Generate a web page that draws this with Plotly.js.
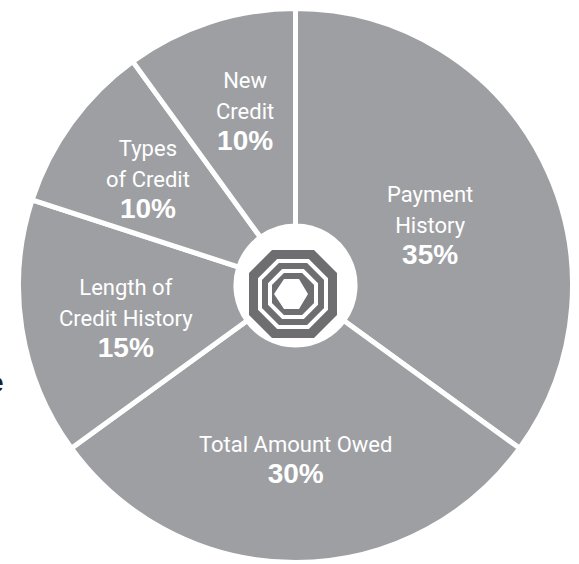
<!DOCTYPE html>
<html>
<head>
<meta charset="utf-8">
<script src="https://cdn.plot.ly/plotly-3.0.1.min.js"></script>
<style>html,body{margin:0;padding:0;background:#fff;}#chart{width:579px;height:564px;}</style>
</head>
<body>
<div id="chart"></div>
<script>
// ---- data ----
var categories = ["Payment<br>History", "Total Amount Owed", "Length of<br>Credit History", "Types<br>of Credit", "New<br>Credit"];
var shares = [35, 30, 15, 10, 10];

// ---- layout helpers (pixel positions of label blocks, not data) ----
var W = 579, H = 564;
var labelCenters = [[430, 226], [295, 460], [126, 319], [148, 180], [245, 112]];
var sliceColor = "#9e9fa3";
var logoColor = "#6e6e70";

function px(x) { return x / W; }
function py(y) { return 1 - y / H; }

var annotations = categories.map(function (c, i) {
  var total = shares.reduce(function (a, b) { return a + b; }, 0);
  var pct = Math.round(shares[i] / total * 100) + "%";
  return {
    xref: "paper", yref: "paper",
    x: px(labelCenters[i][0]), y: py(labelCenters[i][1]),
    xanchor: "center", yanchor: "middle",
    showarrow: false,
    text: '<span style="font-size:22px">' + c + '</span><br>' +
          '<span style="font-size:28px;font-family:Liberation Sans, Arial, sans-serif"><b>' + pct + '</b></span>',
    font: {family: "Roboto, Liberation Sans, sans-serif", size: 24, color: "#ffffff"}
  };
});

// clipped letter at far left
annotations.push({
  xref: "paper", yref: "paper", x: px(6), y: py(382),
  xanchor: "right", yanchor: "middle", showarrow: false,
  text: "<b>e</b>",
  font: {family: "Liberation Sans, Arial, sans-serif", size: 28, color: "#231f20"}
});

// ---- logo (nested octagons) ----
function octPath(cx, cy, h, c) {
  var pts = [[cx - h + c, cy - h], [cx + h - c, cy - h], [cx + h, cy - h + c], [cx + h, cy + h - c],
             [cx + h - c, cy + h], [cx - h + c, cy + h], [cx - h, cy + h - c], [cx - h, cy - h + c]];
  return "M" + pts.map(function (p) { return px(p[0]) + "," + py(p[1]); }).join("L") + "Z";
}
function polyPath(pts) {
  return "M" + pts.map(function (p) { return px(p[0]) + "," + py(p[1]); }).join("L") + "Z";
}
var lcx = 293, lcy = 294;
var shapes = [
  {type: "path", xref: "paper", yref: "paper", path: octPath(lcx, lcy, 44, 23), fillcolor: logoColor, line: {width: 0}},
  {type: "path", xref: "paper", yref: "paper", path: octPath(lcx, lcy, 33, 18), fillcolor: "rgba(0,0,0,0)", line: {color: "#ffffff", width: 4}},
  {type: "path", xref: "paper", yref: "paper", path: octPath(lcx, lcy, 23, 13), fillcolor: "rgba(0,0,0,0)", line: {color: "#ffffff", width: 4}},
  {type: "path", xref: "paper", yref: "paper",
   path: polyPath([[lcx - 19, lcy], [lcx - 9, lcy - 15], [lcx + 6, lcy - 15], [lcx + 15, lcy], [lcx + 6, lcy + 15], [lcx - 9, lcy + 15]]),
   fillcolor: "#ffffff", line: {width: 0}}
];

var trace = {
  type: "pie",
  values: shares,
  labels: categories,
  sort: false,
  direction: "clockwise",
  rotation: 0,
  hole: 0.215,
  textinfo: "none",
  hoverinfo: "none",
  marker: {colors: categories.map(function () { return sliceColor; }), line: {color: "#ffffff", width: 5}},
  domain: {x: [(295.5 - 277) / W, (295.5 + 277) / W], y: [(278.5 - 277) / H, (278.5 + 277) / H]}
};

var layout = {
  width: W, height: H,
  margin: {l: 0, r: 0, t: 0, b: 0},
  paper_bgcolor: "#ffffff",
  showlegend: false,
  annotations: annotations,
  shapes: shapes
};

Plotly.newPlot("chart", [trace], layout, {displayModeBar: false, staticPlot: true});
</script>
</body>
</html>
